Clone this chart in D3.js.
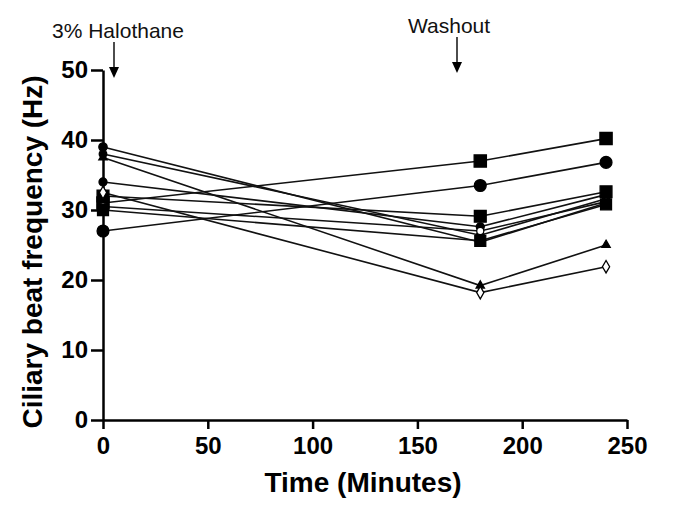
<!DOCTYPE html>
<head>
	<meta charset="utf-8">
	<title>Ciliary beat frequency</title>
<style>
	body {
		margin:0;
		background-color: #ffffff;
		font-family: "Liberation Sans", Arial, sans-serif;
	}
	svg { display:block; }
	.axis path, .axis line { stroke:#000; stroke-width:2.5px; }
	.axis text { font-family: "Liberation Sans Narrow", "Liberation Sans", Arial, sans-serif; font-size:24px; font-weight:bold; fill:#000; }
	.trace { fill:none; stroke:#111; stroke-width:1.6px; }
	.note { font-size:21px; fill:#111; }
	.title { font-size:28px; font-weight:bold; fill:#000; }
</style>
</head>
<body>
<script src="https://cdn.jsdelivr.net/npm/d3@7"></script>
<script>
	// time points (minutes)
	var times = [0, 180, 240];

	// one array per preparation, values in Hz
	var sqTop     = [31, 37, 40.2];
	var circTop   = [27, 33.5, 36.8];
	var sqMid     = [32, 29.1, 32.6];
	var dotA      = [39, 25.4, 31.0];
	var dotB      = [38, 26.4, 31.6];
	var dotC      = [34, 27.6, 32.2];
	var circOpen  = [30.5, 27.0, 31.2];
	var sqLow     = [30, 25.6, 30.8];
	var triSmall  = [37.5, 19.2, 25.0];
	var diaOpen   = [32.5, 18.2, 21.9];

	var series = [
		{v: sqTop,    sym: d3.symbolSquare,   size: 150, fill: "#000"},
		{v: circTop,  sym: d3.symbolCircle,   size: 110, fill: "#000"},
		{v: sqMid,    sym: d3.symbolSquare,   size: 140, fill: "#000"},
		{v: dotA,     sym: d3.symbolCircle,   size: 55,  fill: "#000"},
		{v: dotB,     sym: d3.symbolCircle,   size: 45,  fill: "#000"},
		{v: dotC,     sym: d3.symbolCircle,   size: 50,  fill: "#000"},
		{v: circOpen, sym: d3.symbolCircle,   size: 40,  fill: "#fff"},
		{v: sqLow,    sym: d3.symbolSquare,   size: 120, fill: "#000"},
		{v: triSmall, sym: d3.symbolTriangle, size: 30,  fill: "#000"},
		{v: diaOpen,  sym: d3.symbolDiamond,  size: 45,  fill: "#fff"}
	];

	var xTicks = [0, 50, 100, 150, 200, 250];
	var yTicks = [0, 10, 20, 30, 40, 50];

	var width = 685, height = 530;
	var svg = d3.select("body").append("svg")
		.attr("width", width).attr("height", height);

	var x = d3.scaleLinear().domain([0, 250]).range([103, 627]);
	var y = d3.scaleLinear().domain([0, 50]).range([420, 70]);

	// axes
	svg.append("g").attr("class", "axis")
		.attr("transform", "translate(0,420)")
		.call(d3.axisBottom(x).tickValues(xTicks).tickSize(9).tickPadding(6).tickSizeOuter(0))
		.selectAll("text").attr("dy", "0.8em");

	svg.append("g").attr("class", "axis")
		.attr("transform", "translate(103,0)")
		.call(d3.axisLeft(y).tickValues(yTicks).tickSize(12).tickPadding(3).tickSizeOuter(0));

	// lines
	var line = d3.line()
		.x(function(d, i) { return x(times[i]); })
		.y(function(d) { return y(d); });

	svg.append("g").selectAll("path")
		.data(series)
		.enter().append("path")
		.attr("class", "trace")
		.attr("d", function(s) { return line(s.v); });

	// markers
	series.forEach(function(s) {
		svg.append("g").selectAll("path")
			.data(s.v)
			.enter().append("path")
			.attr("transform", function(d, i) { return "translate(" + x(times[i]) + "," + y(d) + ")"; })
			.attr("d", d3.symbol().type(s.sym).size(s.size))
			.style("fill", s.fill)
			.style("stroke", "#000")
			.style("stroke-width", 1.3);
	});

	// annotations with arrows
	function arrow(xp, y1, y2) {
		svg.append("line")
			.attr("x1", xp).attr("x2", xp)
			.attr("y1", y1).attr("y2", y2 - 8)
			.style("stroke", "#000").style("stroke-width", 1.4);
		svg.append("path")
			.attr("d", "M" + (xp - 5) + "," + (y2 - 11) + "L" + (xp + 5) + "," + (y2 - 11) + "L" + xp + "," + y2 + "Z")
			.style("fill", "#000");
	}

	svg.append("text").attr("class", "note")
		.attr("x", 52).attr("y", 38).text("3% Halothane");
	arrow(114, 42, 78);

	svg.append("text").attr("class", "note")
		.attr("x", 408).attr("y", 33).text("Washout");
	arrow(457, 37, 73);

	// axis titles
	svg.append("text").attr("class", "title")
		.attr("text-anchor", "middle")
		.attr("x", 363).attr("y", 492)
		.text("Time (Minutes)");

	svg.append("text").attr("class", "title")
		.attr("text-anchor", "middle")
		.attr("transform", "translate(42,252) rotate(-90)")
		.text("Ciliary beat frequency (Hz)");
</script>
</body>
